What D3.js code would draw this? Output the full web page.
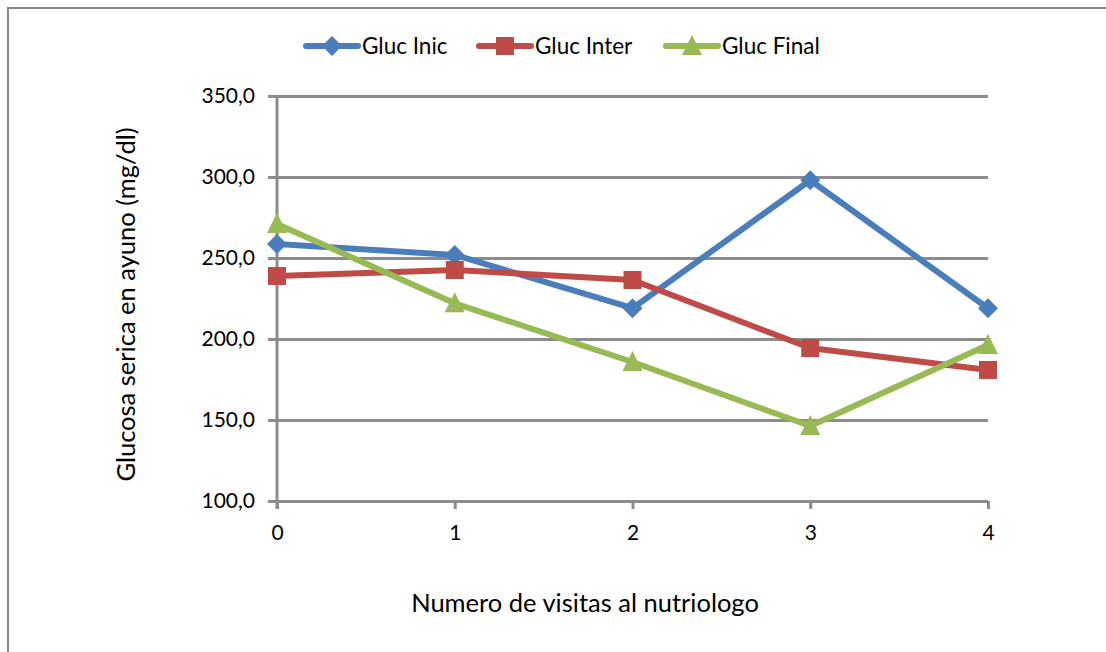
<!DOCTYPE html>
<html>
<head>
<meta charset="utf-8">
<script src="https://cdn.jsdelivr.net/npm/d3@7"></script>
<style>
  body { margin: 0; background: #fff; }
  text { font-family: Lato, "Open Sans", sans-serif; fill: #000; }
</style>
</head>
<body>
<div id="chart"></div>
<script>
// data
const visits = [0, 1, 2, 3, 4];
const glucInic = [258.6, 251.9, 219.0, 298.0, 219.0];
const glucInter = [238.9, 242.6, 236.4, 194.4, 180.9];
const glucFinal = [271.0, 222.0, 185.8, 146.3, 196.3];
const yTicks = [100, 150, 200, 250, 300, 350];

const series = [
    {name: "Gluc Inic", values: glucInic, color: "#4a7ebb", marker: "diamond"},
    {name: "Gluc Inter", values: glucInter, color: "#be4b48", marker: "square"},
    {name: "Gluc Final", values: glucFinal, color: "#98b954", marker: "triangle"}
];

const width = 1106, height = 652;
const margin = {top: 96, left: 277, right: 118, bottom: 151};

const svg = d3.select("#chart").append("svg")
    .attr("width", width)
    .attr("height", height);

// outer chart border (runs off the right and bottom edges)
svg.append("rect")
    .attr("x", 8).attr("y", 8)
    .attr("width", width + 20).attr("height", height + 20)
    .attr("fill", "none")
    .attr("stroke", "#878787")
    .attr("stroke-width", 2);

const x = d3.scaleLinear()
    .domain([0, 4])
    .range([margin.left, width - margin.right]);

const y = d3.scaleLinear()
    .domain([100, 350])
    .range([height - margin.bottom, margin.top]);

// horizontal gridlines with tick stubs on the left
const yAxis = svg.append("g")
    .attr("transform", `translate(${margin.left},0)`)
    .call(d3.axisLeft(y)
        .tickValues(yTicks)
        .tickSize(-(x.range()[1] - x.range()[0]))
        .tickFormat(d => d3.format(".1f")(d).replace(".", ","))
        .tickPadding(22));
yAxis.select(".domain").remove();
yAxis.selectAll("line")
    .attr("x1", -9)
    .attr("stroke", "#8c8c8c")
    .attr("stroke-width", 3);
yAxis.selectAll("text")
    .attr("font-size", 21);

// vertical axis line
svg.append("line")
    .attr("x1", margin.left).attr("x2", margin.left)
    .attr("y1", y(350) - 1).attr("y2", y(100) + 8)
    .attr("stroke", "#8c8c8c")
    .attr("stroke-width", 3);

// x axis
const xAxis = svg.append("g")
    .attr("transform", `translate(0,${y(100)})`)
    .call(d3.axisBottom(x)
        .tickValues(visits)
        .tickFormat(d3.format("d"))
        .tickSize(8)
        .tickPadding(16));
xAxis.select(".domain").remove();
xAxis.selectAll("line")
    .attr("stroke", "#8c8c8c")
    .attr("stroke-width", 3);
xAxis.selectAll("text")
    .attr("font-size", 21);

// axis titles
svg.append("text")
    .attr("x", 585)
    .attr("y", 612)
    .attr("text-anchor", "middle")
    .attr("font-size", 25.5)
    .text("Numero de visitas al nutriologo");

svg.append("text")
    .attr("transform", `translate(135,${y(225) + 6}) rotate(-90)`)
    .attr("text-anchor", "middle")
    .attr("font-size", 25.5)
    .text("Glucosa serica en ayuno (mg/dl)");

const line = d3.line()
    .x((d, i) => x(visits[i]))
    .y(d => y(d));

function drawMarker(g, type, color, cx, cy) {
    if (type === "diamond") {
        g.append("path")
            .attr("d", `M${cx},${cy - 10}L${cx + 10},${cy}L${cx},${cy + 10}L${cx - 10},${cy}Z`)
            .attr("fill", color);
    } else if (type === "square") {
        g.append("rect")
            .attr("x", cx - 9).attr("y", cy - 9)
            .attr("width", 18).attr("height", 18)
            .attr("fill", color);
    } else {
        g.append("path")
            .attr("d", `M${cx},${cy - 11}L${cx + 10},${cy + 9}L${cx - 10},${cy + 9}Z`)
            .attr("fill", color);
    }
}

series.forEach(s => {
    const g = svg.append("g");
    g.append("path")
        .datum(s.values)
        .attr("d", line)
        .attr("fill", "none")
        .attr("stroke", s.color)
        .attr("stroke-width", 6)
        .attr("stroke-linejoin", "round");
    s.values.forEach((v, i) => drawMarker(g, s.marker, s.color, x(visits[i]), y(v)));
});

// legend
const legendX = [306, 479, 666];
series.forEach((s, i) => {
    const g = svg.append("g").attr("transform", `translate(${legendX[i]},46)`);
    g.append("line")
        .attr("x1", 0).attr("x2", 52)
        .attr("stroke", s.color)
        .attr("stroke-width", 6)
        .attr("stroke-linecap", "round");
    drawMarker(g, s.marker, s.color, 26, 0);
    g.append("text")
        .attr("x", 56)
        .attr("y", 8)
        .attr("font-size", 22.5)
        .text(s.name);
});
</script>
</body>
</html>
